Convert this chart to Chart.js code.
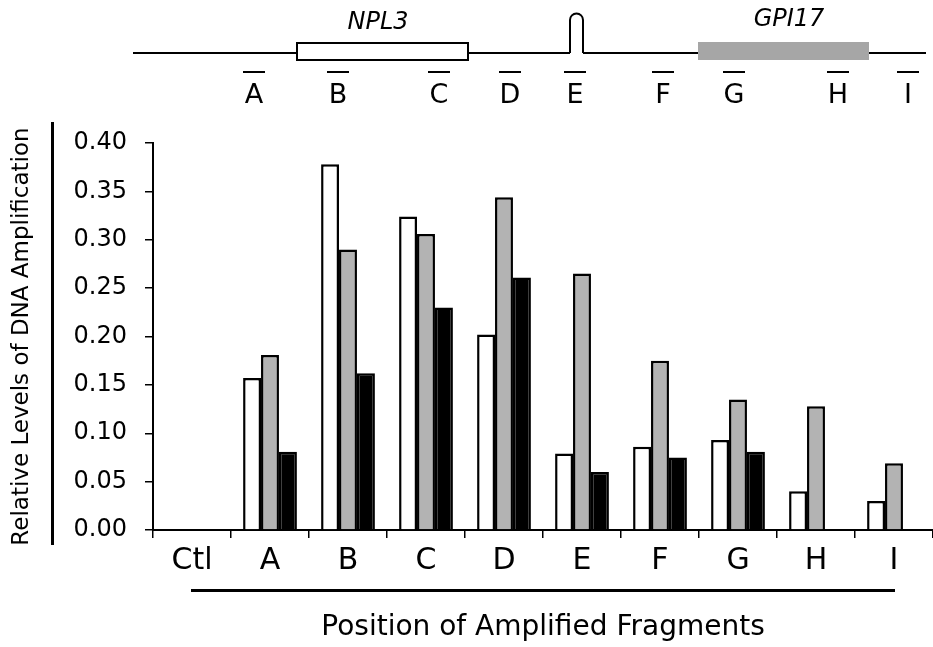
<!DOCTYPE html>
<html>
<head>
<meta charset="utf-8">
<script src="https://cdn.jsdelivr.net/npm/chart.js@4.4.0/dist/chart.umd.min.js"></script>
<style>
  body { margin: 0; background: #fff; }
  #wrap { width: 933px; height: 647px; }
</style>
</head>
<body>
<div id="wrap"><canvas id="myChart"></canvas></div>
<script>
const categories = ["Ctl", "A", "B", "C", "D", "E", "F", "G", "H", "I"];
const seriesWhite = [null, 0.157, 0.378, 0.324, 0.202, 0.079, 0.086, 0.093, 0.040, 0.030];
const seriesGray  = [null, 0.181, 0.290, 0.306, 0.344, 0.265, 0.175, 0.135, 0.128, 0.069];
const seriesBlack = [null, 0.081, 0.162, 0.230, 0.261, 0.060, 0.075, 0.081, null, null];
const yTicks = [0, 0.05, 0.10, 0.15, 0.20, 0.25, 0.30, 0.35, 0.40];

const fontFamily = "'DejaVu Sans', sans-serif";

// x centre of each fragment mark (A..I) on the gene map drawn above the chart
const fragmentX = [254, 338, 439, 510, 575, 663, 734, 838, 908];

const geneDiagram = {
    id: "geneDiagram",
    afterDraw: (chart) => {
        const ctx = chart.ctx;
        ctx.save();
        ctx.strokeStyle = "#000";
        ctx.lineWidth = 2;

        // chromosome line, with a gap for the hairpin
        ctx.beginPath();
        ctx.moveTo(133, 53);
        ctx.lineTo(570, 53);
        ctx.moveTo(583, 53);
        ctx.lineTo(926, 53);
        ctx.stroke();

        // hairpin loop
        ctx.beginPath();
        ctx.moveTo(570, 53);
        ctx.lineTo(570, 20);
        ctx.arc(576.5, 20, 6.5, Math.PI, 0);
        ctx.lineTo(583, 53);
        ctx.stroke();

        // NPL3 gene (open box)
        ctx.fillStyle = "#fff";
        ctx.fillRect(297, 43, 171, 17);
        ctx.strokeRect(297, 43, 171, 17);

        // GPI17 gene (grey box)
        ctx.fillStyle = "#a6a6a6";
        ctx.fillRect(698, 42, 171, 18);

        ctx.fillStyle = "#000";
        ctx.textAlign = "center";
        ctx.textBaseline = "middle";
        ctx.font = "italic 24px " + fontFamily;
        ctx.fillText("NPL3", 378, 23);
        ctx.fillText("GPI17", 789, 20);

        // fragment marks with their letters
        ctx.font = "27px " + fontFamily;
        categories.slice(1).forEach((name, i) => {
            const x = fragmentX[i];
            ctx.fillRect(x - 11, 71, 22, 2);
            ctx.fillText(name, x, 96);
        });

        // rule beside the y title and under the x labels
        ctx.fillRect(51, 122, 3, 423);
        ctx.fillRect(191, 589, 704, 3);
        ctx.restore();
    }
};

const ctx = document.getElementById("myChart").getContext("2d");

Chart.defaults.font.family = fontFamily;
Chart.defaults.color = "#000";

const barStyle = (fill) => ({
    backgroundColor: fill,
    borderColor: "#000",
    borderWidth: 2.5,
    categoryPercentage: 0.69,
    barPercentage: 1.0
});

const myChart = new Chart(ctx, {
    type: "bar",
    data: {
        labels: categories,
        datasets: [
            Object.assign({label: "white", data: seriesWhite}, barStyle("#fff")),
            Object.assign({label: "grey", data: seriesGray}, barStyle("#b3b3b3")),
            Object.assign({label: "black", data: seriesBlack}, barStyle("#000"))
        ]
    },
    options: {
        responsive: true,
        maintainAspectRatio: false,
        animation: false,
        layout: {
            padding: {top: 143, left: 0, right: 0, bottom: 0}
        },
        scales: {
            x: {
                afterFit: (scale) => { scale.height = 117; },
                grid: {
                    offset: true,
                    drawOnChartArea: false,
                    drawTicks: true,
                    tickLength: 8,
                    color: "#000",
                    lineWidth: 1.5
                },
                border: {color: "#000", width: 2},
                ticks: {
                    padding: 5,
                    font: {size: 30}
                },
                title: {
                    display: true,
                    text: "Position of Amplified Fragments",
                    font: {size: 28},
                    padding: {top: 0, bottom: 2}
                }
            },
            y: {
                min: 0,
                max: 0.4,
                afterFit: (scale) => { scale.width = 153; },
                afterBuildTicks: (scale) => {
                    scale.ticks = yTicks.map(v => ({value: v}));
                },
                grid: {
                    drawOnChartArea: false,
                    drawTicks: true,
                    tickLength: 8,
                    color: "#000",
                    lineWidth: 1.5
                },
                border: {color: "#000", width: 2},
                ticks: {
                    padding: 18,
                    font: {size: 24},
                    callback: (value) => Number(value).toFixed(2)
                },
                title: {
                    display: true,
                    text: "Relative Levels of DNA Amplification",
                    font: {size: 23},
                    padding: {top: 8, bottom: 0}
                }
            }
        },
        plugins: {
            legend: {display: false},
            tooltip: {enabled: false}
        }
    },
    plugins: [geneDiagram]
});
</script>
</body>
</html>
